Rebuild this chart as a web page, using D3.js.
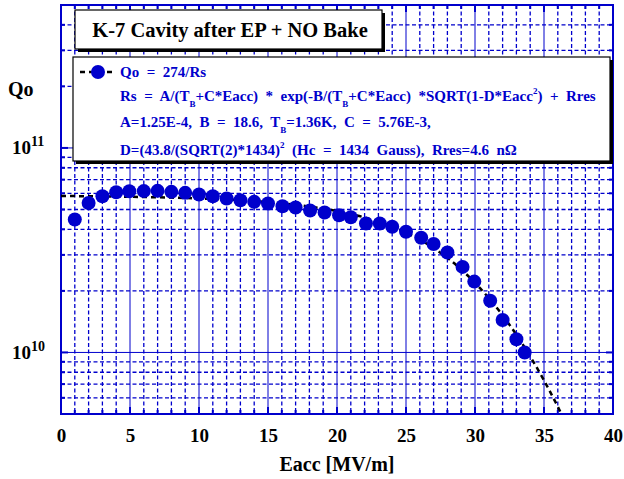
<!DOCTYPE html>
<html>
<head>
<meta charset="utf-8">
<script src="https://cdn.jsdelivr.net/npm/d3@7"></script>
<style>
  body { margin: 0; background: #fff; }
  svg { display: block; font-family: "Liberation Serif", "Times New Roman", serif; font-weight: bold; }
  text { white-space: pre; }
</style>
</head>
<body>
<svg id="chart" width="624" height="479"></svg>
<script>
// measured points: Eacc [MV/m] and Qo
const eacc = [1, 2, 3, 4, 4.95, 6, 7, 8, 9, 10, 11, 12, 13, 14, 15, 16.05, 17, 18.05, 19.1, 20.15, 21,
  22.1, 23.1, 24, 25, 26.1, 27, 28, 29.1, 29.95, 31.1, 32, 33, 33.6];
const qo = [4.47e10, 5.38e10, 5.8e10, 6.07e10, 6.14e10, 6.15e10, 6.17e10, 6.1e10, 6.03e10, 5.92e10, 5.8e10,
  5.66e10, 5.55e10, 5.45e10, 5.35e10, 5.19e10, 5.11e10, 4.94e10, 4.83e10, 4.69e10, 4.58e10,
  4.27e10, 4.27e10, 4.12e10, 3.89e10, 3.64e10, 3.39e10, 3.08e10, 2.62e10, 2.22e10, 1.79e10, 1.44e10, 1.16e10, 1.0e10];

// dashed fit curve
const fitE = [0, 5, 10, 15, 20, 22, 24, 26, 28, 30, 32, 34, 35, 36, 36.5];
const fitQ = [5.82e10, 5.77e10, 5.66e10, 5.43e10, 4.91e10, 4.57e10, 4.12e10, 3.56e10, 2.9e10, 2.19e10,
  1.52e10, 9.56e9, 7.3e9, 5.43e9, 4.64e9];

const xTicks = [0, 5, 10, 15, 20, 25, 30, 35, 40];
const yLabelTicks = [1e10, 1e11];

const blue = "#0000cc";
const svg = d3.select("#chart");
const pL = 61, pR = 613, pT = 5, pB = 414;

const x = d3.scaleLinear().domain([0, 40]).range([pL, pR]);
const y = d3.scaleLog().domain([5e9, 5e11]).range([pB, pT]);

// minor values for grid
const xMinor = d3.range(0, 41, 1);
const yMinor = [];
[1e9, 1e10, 1e11].forEach(d => { for (let k = 1; k < 10; k++) { const v = k * d; if (v >= 5e9 && v <= 5e11) yMinor.push(v); } });

const grid = svg.append("g");
grid.selectAll(".vx").data(xMinor.filter(d => d > 0 && d < 40)).join("line")
  .attr("x1", d => x(d)).attr("x2", d => x(d)).attr("y1", pT).attr("y2", pB)
  .attr("stroke", blue)
  .attr("stroke-width", d => d % 5 === 0 ? 1 : 1.3)
  .attr("stroke-dasharray", d => d % 5 === 0 ? null : "4,2.5");
grid.selectAll(".hy").data(yMinor.filter(d => d > 5e9 && d < 5e11)).join("line")
  .attr("x1", pL).attr("x2", pR).attr("y1", d => y(d)).attr("y2", d => y(d))
  .attr("stroke", blue)
  .attr("stroke-width", d => yLabelTicks.includes(d) ? 1 : 1.3)
  .attr("stroke-dasharray", d => yLabelTicks.includes(d) ? null : "4,2.5");

// inward ticks on all four sides
const ticks = svg.append("g").attr("stroke", blue).attr("stroke-width", 2);
ticks.selectAll(".tb").data(xMinor).join("line")
  .attr("x1", d => x(d)).attr("x2", d => x(d))
  .attr("y1", pB).attr("y2", d => pB - (d % 5 === 0 ? 7 : 4));
ticks.selectAll(".tt").data(xMinor).join("line")
  .attr("x1", d => x(d)).attr("x2", d => x(d))
  .attr("y1", pT).attr("y2", d => pT + (d % 5 === 0 ? 7 : 4));
ticks.selectAll(".tl").data(yMinor).join("line")
  .attr("y1", d => y(d)).attr("y2", d => y(d))
  .attr("x1", pL).attr("x2", d => pL + (yLabelTicks.includes(d) ? 7 : 4));
ticks.selectAll(".tr").data(yMinor).join("line")
  .attr("y1", d => y(d)).attr("y2", d => y(d))
  .attr("x1", pR).attr("x2", d => pR - (yLabelTicks.includes(d) ? 7 : 4));

svg.append("rect").attr("x", pL).attr("y", pT).attr("width", pR - pL).attr("height", pB - pT)
  .attr("fill", "none").attr("stroke", blue).attr("stroke-width", 2);

// fit curve
svg.append("clipPath").attr("id", "clip").append("rect")
  .attr("x", pL).attr("y", pT).attr("width", pR - pL).attr("height", pB - pT);
const fitLine = d3.line().x(d => x(d[0])).y(d => y(d[1])).curve(d3.curveMonotoneX);
svg.append("path").datum(fitE.map((e, i) => [e, fitQ[i]]))
  .attr("d", fitLine).attr("clip-path", "url(#clip)")
  .attr("fill", "none").attr("stroke", "#000").attr("stroke-width", 2.5).attr("stroke-dasharray", "5,4");

// data points
svg.append("g").selectAll("circle").data(eacc.map((e, i) => [e, qo[i]])).join("circle")
  .attr("cx", d => x(d[0])).attr("cy", d => y(d[1])).attr("r", 7).attr("fill", blue);

// axes labels
const xAxis = svg.append("g").attr("transform", `translate(0,${pB})`)
  .call(d3.axisBottom(x).tickValues(xTicks).tickSize(0).tickPadding(15).tickFormat(d3.format("d")));
xAxis.select(".domain").remove();
xAxis.selectAll("text").attr("font-size", 19).attr("font-family", "Liberation Serif").attr("font-weight", "bold").attr("fill", "#000");

const yAxis = svg.append("g").attr("transform", `translate(${pL},0)`)
  .call(d3.axisLeft(y).tickValues(yLabelTicks).tickSize(0).tickFormat(() => ""));
yAxis.select(".domain").remove();
yAxis.selectAll(".tick").each(function (d) {
  const t = d3.select(this).select("text").attr("x", -49).attr("dy", 6)
    .attr("text-anchor", "start").attr("font-size", 19)
    .attr("font-family", "Liberation Serif").attr("font-weight", "bold").attr("fill", "#000");
  t.append("tspan").text("10");
  t.append("tspan").attr("dy", -8).attr("font-size", 14).text(String(Math.round(Math.log10(d))));
});

svg.append("text").attr("x", 8).attr("y", 96).attr("font-size", 20).text("Qo");
svg.append("text").attr("x", 337).attr("y", 471).attr("text-anchor", "middle").attr("font-size", 20).text("Eacc [MV/m]");

// title box
svg.append("rect").attr("x", 78).attr("y", 13).attr("width", 307).attr("height", 39).attr("fill", "#000");
svg.append("rect").attr("x", 75).attr("y", 10).attr("width", 307).attr("height", 39)
  .attr("fill", "#fff").attr("stroke", "#000").attr("stroke-width", 1.2);
svg.append("text").attr("x", 230).attr("y", 37).attr("text-anchor", "middle").attr("font-size", 20.5)
  .text("K-7 Cavity after EP + NO Bake");

// legend box
svg.append("rect").attr("x", 76).attr("y", 60).attr("width", 537).attr("height", 104).attr("fill", "#000");
svg.append("rect").attr("x", 73).attr("y", 57).attr("width", 537).attr("height", 104)
  .attr("fill", "#fff").attr("stroke", "#000").attr("stroke-width", 1.2);
svg.append("line").attr("x1", 80).attr("x2", 116).attr("y1", 72).attr("y2", 72)
  .attr("stroke", "#000").attr("stroke-width", 2.5).attr("stroke-dasharray", "5,4");
svg.append("circle").attr("cx", 98).attr("cy", 72).attr("r", 7).attr("fill", blue);

const legendLines = [
  [["Qo  =  274/Rs"]],
  [["Rs  =  A/(T"], ["B", "sub"], ["+C*Eacc)  *  exp(-B/(T"], ["B", "sub"], ["+C*Eacc)  *SQRT(1-D*Eacc"], ["2", "sup"], [")  +  Rres"]],
  [["A=1.25E-4,  B  =  18.6,  T"], ["B", "sub"], ["=1.36K,  C  =  5.76E-3,"]],
  [["D=(43.8/(SQRT(2)*1434)"], ["2", "sup"], ["  (Hc  =  1434  Gauss),  Rres=4.6  nΩ"]]
];
const legendY = [77, 101, 127, 155];
legendLines.forEach((parts, i) => {
  const t = svg.append("text").attr("x", 120).attr("y", legendY[i]).attr("font-size", 15).attr("fill", blue);
  let shift = 0;
  parts.forEach(([s, kind]) => {
    const target = kind === "sub" ? 6 : kind === "sup" ? -7 : 0;
    t.append("tspan").attr("dy", target - shift).attr("font-size", kind ? 9 : 15).text(s);
    shift = target;
  });
});
</script>
</body>
</html>
